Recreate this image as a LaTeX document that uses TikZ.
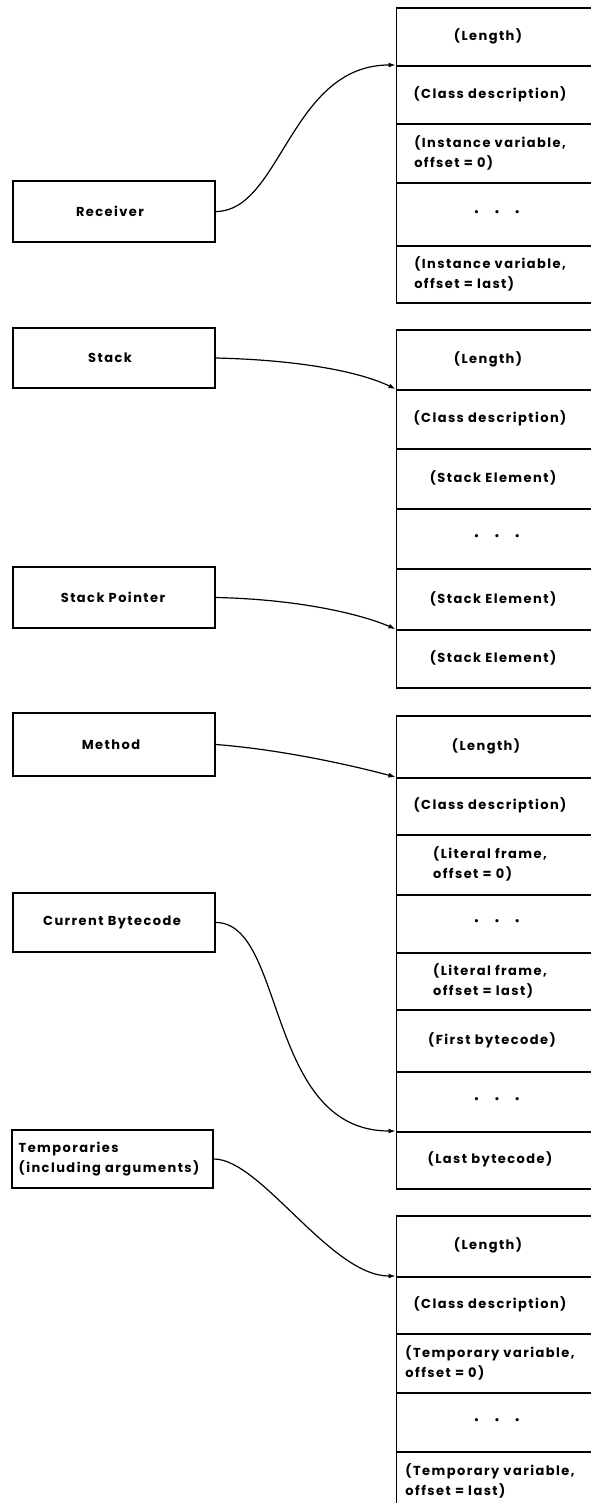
\documentclass[tikz,border=0pt]{standalone}
\usepackage{fontspec}
\setmainfont{Poppins}
\newfontfamily\lettering{Poppins}[LetterSpace=11]
\usetikzlibrary{arrows.meta}
\newcommand\celldots{•\hspace{15pt}•\hspace{15pt}•}
\begin{document}
\begin{tikzpicture}[x=1pt,y=-1pt,
  cellbox/.style={draw, line width=1.7pt, minimum width=215pt, inner sep=0pt, anchor=north west},
  leftbox/.style={draw, line width=1.7pt, inner sep=0pt, minimum width=202pt},
  txt/.style={font=\lettering\bfseries\fontsize{13}{20}\selectfont, align=left, inner sep=0pt, text=black},
  dotstxt/.style={font=\fontsize{13}{13}\selectfont, inner sep=0pt},
  link/.style={line width=1.2pt, -{Latex[length=7pt,width=5pt]}}]
\useasboundingbox (0,0) rectangle (591,1503);
\clip (0,0) rectangle (591,1503);

% ---------- column 1: receiver object
\node[cellbox, minimum height=58pt] (r1) at (395.5,7) {};
\node[cellbox, minimum height=58pt] (r2) at (395.5,65) {};
\node[cellbox, minimum height=59pt] (r3) at (395.5,123) {};
\node[cellbox, minimum height=63pt] (r4) at (395.5,182) {};
\node[cellbox, minimum height=57pt] (r5) at (395.5,245) {};
\node[txt] (r1t) at (488,36) {(Length)};
\node[txt] (r2t) at (490,94) {(Class description)};
\node[txt] (r3t) at (490,152.5) {(Instance variable,\\offset = 0)};
\node[dotstxt] (r4t) at (497,213.5) {\celldots};
\node[txt] (r5t) at (490,273.5) {(Instance variable,\\offset = last)};

% ---------- column 2: stack
\node[cellbox, minimum height=60pt] (s1) at (395.5,329) {};
\node[cellbox, minimum height=59pt] (s2) at (395.5,389) {};
\node[cellbox, minimum height=60pt] (s3) at (395.5,448) {};
\node[cellbox, minimum height=60pt] (s4) at (395.5,508) {};
\node[cellbox, minimum height=61pt] (s5) at (395.5,568) {};
\node[cellbox, minimum height=58pt] (s6) at (395.5,629) {};
\node[txt] (s1t) at (488,359) {(Length)};
\node[txt] (s2t) at (490,418.5) {(Class description)};
\node[txt] (s3t) at (493,478) {(Stack Element)};
\node[dotstxt] (s4t) at (497,538) {\celldots};
\node[txt] (s5t) at (493,598.5) {(Stack Element)};
\node[txt] (s6t) at (493,658) {(Stack Element)};

% ---------- column 3: method
\node[cellbox, minimum height=62pt] (m1) at (395.5,715) {};
\node[cellbox, minimum height=57pt] (m2) at (395.5,777) {};
\node[cellbox, minimum height=60pt] (m3) at (395.5,834) {};
\node[cellbox, minimum height=58pt] (m4) at (395.5,894) {};
\node[cellbox, minimum height=57pt] (m5) at (395.5,952) {};
\node[cellbox, minimum height=62pt] (m6) at (395.5,1009) {};
\node[cellbox, minimum height=60pt] (m7) at (395.5,1071) {};
\node[cellbox, minimum height=57pt] (m8) at (395.5,1131) {};
\node[txt] (m1t) at (486,746) {(Length)};
\node[txt] (m2t) at (490,805.5) {(Class description)};
\node[txt] (m3t) at (490,864) {(Literal frame,\\offset = 0)};
\node[dotstxt] (m4t) at (497,923) {\celldots};
\node[txt] (m5t) at (490,980.5) {(Literal frame,\\offset = last)};
\node[txt] (m6t) at (492,1040) {(First bytecode)};
\node[dotstxt] (m7t) at (497,1101) {\celldots};
\node[txt] (m8t) at (490,1159.5) {(Last bytecode)};

% ---------- column 4: temporaries
\node[cellbox, minimum height=61pt] (t1) at (395.5,1215) {};
\node[cellbox, minimum height=57pt] (t2) at (395.5,1276) {};
\node[cellbox, minimum height=59pt] (t3) at (395.5,1333) {};
\node[cellbox, minimum height=59pt] (t4) at (395.5,1392) {};
\node[cellbox, minimum height=59pt] (t5) at (395.5,1451) {};
\node[txt] (t1t) at (488,1245.5) {(Length)};
\node[txt] (t2t) at (490,1304.5) {(Class description)};
\node[txt] (t3t) at (490,1362.5) {(Temporary variable,\\offset = 0)};
\node[dotstxt] (t4t) at (497,1421.5) {\celldots};
\node[txt] (t5t) at (490,1480.5) {(Temporary variable,\\offset = last)};

% ---------- left boxes
\node[leftbox, minimum height=61pt] (recv) at (114,211.5) {};
\node[txt] (recvt) at (110,211.5) {Receiver};
\node[leftbox, minimum height=60pt] (stk) at (114,358) {};
\node[txt] (stkt) at (110,358) {Stack};
\node[leftbox, minimum height=61pt] (sp) at (114,597.5) {};
\node[txt] (spt) at (113,597.5) {Stack Pointer};
\node[leftbox, minimum height=63pt] (meth) at (114,744.5) {};
\node[txt] (metht) at (111,744.5) {Method};
\node[leftbox, minimum height=59pt] (cbc) at (114,922.5) {};
\node[txt] (cbct) at (112,922.5) {Current Bytecode};
\node[leftbox, minimum height=58pt, minimum width=201pt] (temps) at (112.5,1159) {};
\node[txt] (tempst) at (109,1159) {Temporaries\\(including arguments)};

% ---------- connectors
\draw[link] (recv.east) .. controls +(65,0) and +(-105,0) .. (r2.north west);
\draw[link] (stk.east) .. controls +(85,2) and +(-35,-17) .. (s2.north west);
\draw[link] (sp.east) .. controls +(75,1.5) and +(-40,-17) .. (s6.north west);
\draw[link] (meth.east) .. controls +(65,5) and +(-45,-12) .. (m2.north west);
\draw[link] (cbc.east) .. controls +(70,0) and +(-130,0) .. (m8.north west);
\draw[link] (temps.east) .. controls +(47,0) and +(-65,0) .. (t2.north west);
\end{tikzpicture}
\end{document}
